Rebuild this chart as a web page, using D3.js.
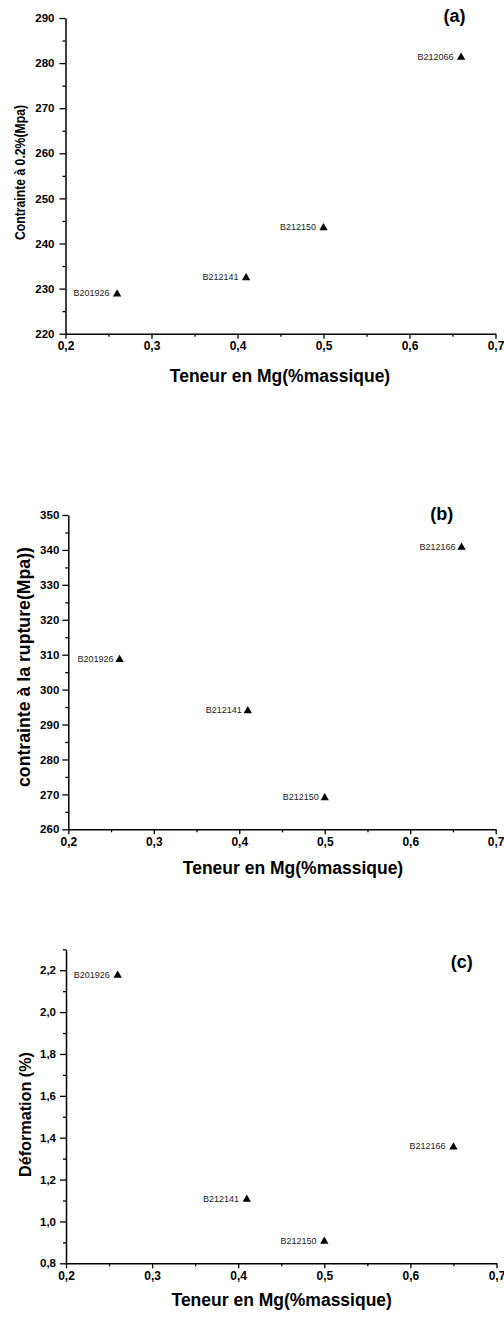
<!DOCTYPE html>
<html>
<head>
<meta charset="utf-8">
<script src="https://cdn.jsdelivr.net/npm/d3@7"></script>
<style>
  body { margin: 0; background: #fff; }
  svg { display: block; font-family: "Liberation Sans", Arial, sans-serif; }
  .domain { stroke: #000; stroke-width: 1.5; }
  .tick line { stroke: #000; stroke-width: 1.3; }
  .tick text { font-weight: bold; fill: #000; }
</style>
</head>
<body>
<svg width="504" height="1318"></svg>
<script>
// Mg content (x), sample names and measured values
var mgAB = [0.26, 0.41, 0.50, 0.66];
var mgC = [0.26, 0.41, 0.50, 0.65];
var namesA = ["B201926", "B212141", "B212150", "B212066"];
var namesBC = ["B201926", "B212141", "B212150", "B212166"];
var yieldStress = [229.0, 232.6, 243.7, 281.5];
var ruptureStress = [308.9, 294.2, 269.3, 341.0];
var deformation = [2.18, 1.11, 0.91, 1.36];

var xTicks = [0.2, 0.3, 0.4, 0.5, 0.6, 0.7];
var xMinor = [0.25, 0.35, 0.45, 0.55, 0.65];
var yTicksA = [220, 230, 240, 250, 260, 270, 280, 290];
var yMinorA = [225, 235, 245, 255, 265, 275, 285];
var yTicksB = [260, 270, 280, 290, 300, 310, 320, 330, 340, 350];
var yMinorB = [265, 275, 285, 295, 305, 315, 325, 335, 345];
var yTicksC = [0.8, 1.0, 1.2, 1.4, 1.6, 1.8, 2.0, 2.2];
var yMinorC = [0.9, 1.1, 1.3, 1.5, 1.7, 1.9, 2.1, 2.3];

var svg = d3.select("svg");

var comma1 = function (d) { return d3.format(".1f")(d).replace(".", ","); };

var panels = [
  {
    x: mgAB, y: yieldStress, names: namesA,
    yDomain: [220, 290], yTicks: yTicksA, yMinor: yMinorA, yFmt: d3.format("d"),
    left: 65.5, right: 495.5, top: 18, bottom: 333.7,
    yTitle: "Contrainte à 0.2%(Mpa)", yTitleX: 24.5, yTitleY: 172.5, yTitleSize: 15, yTitleLen: 135,
    xTitleX: 280, xTitleY: 382, tag: "(a)", tagX: 454.5, tagY: 22, yPad: 5, labelGap: 7.5
  },
  {
    x: mgAB, y: ruptureStress, names: namesBC,
    yDomain: [260, 350], yTicks: yTicksB, yMinor: yMinorB, yFmt: d3.format("d"),
    left: 68.3, right: 495.7, top: 515, bottom: 829.3,
    yTitle: "contrainte à la rupture(Mpa))", yTitleX: 30, yTitleY: 667, yTitleSize: 17.5, yTitleLen: 240,
    xTitleX: 293, xTitleY: 874, tag: "(b)", tagX: 441.8, tagY: 520, yPad: 3, labelGap: 6
  },
  {
    x: mgC, y: deformation, names: namesBC,
    yDomain: [0.8, 2.3], yTicks: yTicksC, yMinor: yMinorC, yFmt: comma1,
    left: 66, right: 496.5, top: 949.3, bottom: 1263.3,
    yTitle: "Déformation (%)", yTitleX: 30.5, yTitleY: 1114.5, yTitleSize: 16, yTitleLen: 125,
    xTitleX: 281.7, xTitleY: 1306, tag: "(c)", tagX: 461.7, tagY: 968, yPad: 4, labelGap: 7.8
  }
];

panels.forEach(function (p) {
  var xScale = d3.scaleLinear().domain([0.2, 0.7]).range([p.left, p.right]);
  var yScale = d3.scaleLinear().domain(p.yDomain).range([p.bottom, p.top]);
  var g = svg.append("g");

  // minor ticks
  g.append("g")
    .attr("transform", "translate(0," + p.bottom + ")")
    .call(d3.axisBottom(xScale).tickValues(xMinor).tickSize(3).tickSizeOuter(0).tickFormat(""))
    .select(".domain").remove();
  g.append("g")
    .attr("transform", "translate(" + p.left + ",0)")
    .call(d3.axisLeft(yScale).tickValues(p.yMinor).tickSize(3).tickSizeOuter(0).tickFormat(""))
    .select(".domain").remove();

  // major axes
  var xAxis = g.append("g")
    .attr("transform", "translate(0," + p.bottom + ")")
    .call(d3.axisBottom(xScale).tickValues(xTicks).tickSize(5).tickSizeOuter(0).tickPadding(3).tickFormat(comma1));
  xAxis.selectAll(".tick text").style("font-size", "12px");

  var yAxis = g.append("g")
    .attr("transform", "translate(" + p.left + ",0)")
    .call(d3.axisLeft(yScale).tickValues(p.yTicks).tickSize(6).tickSizeOuter(0).tickPadding(p.yPad).tickFormat(p.yFmt));
  yAxis.selectAll(".tick text").style("font-size", "11.5px");

  // axis titles
  g.append("text")
    .attr("x", p.xTitleX).attr("y", p.xTitleY)
    .attr("text-anchor", "middle")
    .style("font-size", "17.5px").style("font-weight", "bold")
    .text("Teneur en Mg(%massique)");

  g.append("text")
    .attr("transform", "translate(" + p.yTitleX + "," + p.yTitleY + ") rotate(-90)")
    .attr("text-anchor", "middle")
    .attr("textLength", p.yTitleLen).attr("lengthAdjust", "spacingAndGlyphs")
    .style("font-size", p.yTitleSize + "px").style("font-weight", "bold")
    .text(p.yTitle);

  g.append("text")
    .attr("x", p.tagX).attr("y", p.tagY)
    .attr("text-anchor", "middle")
    .style("font-size", "18px").style("font-weight", "bold")
    .text(p.tag);

  // points
  var pts = p.x.map(function (d, i) { return { x: d, y: p.y[i], name: p.names[i] }; });
  var tri = d3.symbol().type(d3.symbolTriangle).size(30);

  g.selectAll("path.pt").data(pts).enter()
    .append("path").attr("class", "pt")
    .attr("d", tri)
    .attr("fill", "#000")
    .attr("transform", function (d) { return "translate(" + xScale(d.x) + "," + (yScale(d.y) + 1) + ")"; });

  g.selectAll("text.lbl").data(pts).enter()
    .append("text").attr("class", "lbl")
    .attr("x", function (d) { return xScale(d.x) - p.labelGap; })
    .attr("y", function (d) { return yScale(d.y) + 3.3; })
    .attr("text-anchor", "end")
    .style("font-size", "9px").style("fill", "#222")
    .text(function (d) { return d.name; });
});
</script>
</body>
</html>
